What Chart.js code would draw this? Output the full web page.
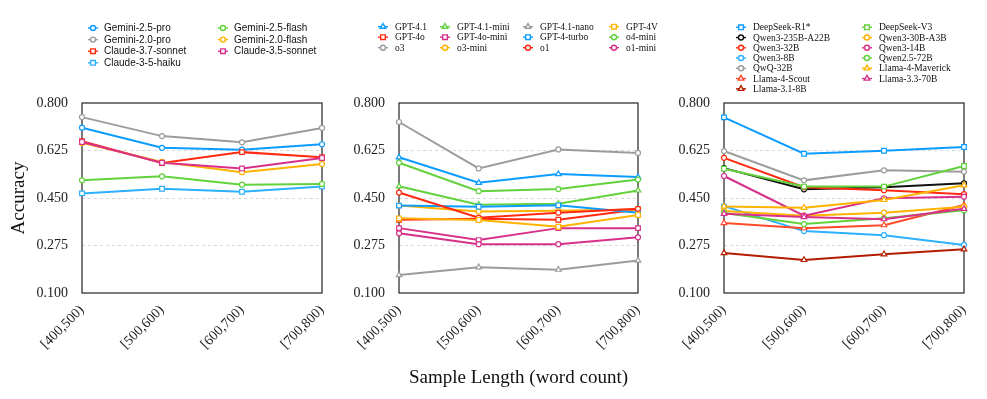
<!DOCTYPE html>
<html>
<head>
<meta charset="utf-8">
<script src="https://cdn.jsdelivr.net/npm/chart.js@4/dist/chart.umd.min.js"></script>
<style>
  html, body { margin: 0; padding: 0; background: #fff; }
  #wrap { position: relative; width: 987px; height: 399px; overflow: hidden; }
  canvas { position: absolute; top: 0; }
</style>
</head>
<body>
<div id="wrap">
  <canvas id="c1" width="330" height="399" style="left:0px"></canvas>
  <canvas id="c2" width="330" height="399" style="left:330px"></canvas>
  <canvas id="c3" width="327" height="399" style="left:660px"></canvas>
</div>
<script>
const lengthBins = ["[400,500)", "[500,600)", "[600,700)", "[700,800)"];
const yTicks = [0.1, 0.275, 0.45, 0.625, 0.8];

// panel 1: proprietary (Gemini / Claude)
const gemini25Pro = [0.709, 0.635, 0.628, 0.648];
const gemini20Pro = [0.748, 0.678, 0.655, 0.708];
const claude37Sonnet = [0.659, 0.579, 0.619, 0.600];
const claude35Haiku = [0.467, 0.484, 0.473, 0.492];
const gemini25Flash = [0.515, 0.530, 0.499, 0.502];
const gemini20Flash = [0.653, 0.583, 0.545, 0.575];
const claude35Sonnet = [0.656, 0.580, 0.559, 0.597];

// panel 2: OpenAI
const gpt41 = [0.600, 0.506, 0.538, 0.527];
const gpt4o = [0.370, 0.374, 0.370, 0.408];
const o3 = [0.730, 0.559, 0.629, 0.616];
const gpt41Mini = [0.493, 0.425, 0.429, 0.478];
const gpt4oMini = [0.339, 0.295, 0.339, 0.339];
const o3Mini = [0.422, 0.400, 0.403, 0.408];
const gpt41Nano = [0.166, 0.195, 0.186, 0.220];
const gpt4Turbo = [0.422, 0.418, 0.423, 0.396];
const o1 = [0.470, 0.377, 0.396, 0.410];
const gpt4v = [0.375, 0.369, 0.344, 0.387];
const o4Mini = [0.580, 0.475, 0.483, 0.518];
const o1Mini = [0.320, 0.280, 0.280, 0.305];

// panel 3: open weights
const deepseekR1 = [0.747, 0.613, 0.624, 0.638];
const qwen3_235b = [0.560, 0.482, 0.490, 0.504];
const qwen3_32b = [0.598, 0.490, 0.479, 0.464];
const qwen3_8b = [0.420, 0.328, 0.313, 0.277];
const qwq32b = [0.623, 0.515, 0.552, 0.547];
const llama4Scout = [0.358, 0.339, 0.350, 0.424];
const llama31_8b = [0.247, 0.222, 0.243, 0.261];
const deepseekV3 = [0.558, 0.492, 0.492, 0.568];
const qwen3_30b = [0.402, 0.385, 0.396, 0.418];
const qwen3_14b = [0.531, 0.385, 0.449, 0.455];
const qwen25_72b = [0.395, 0.354, 0.375, 0.405];
const llama4Maverick = [0.419, 0.414, 0.443, 0.497];
const llama33_70b = [0.392, 0.380, 0.372, 0.410];

const BLUE = "#0c9cff", LBLUE = "#2cb0ff", GRAY = "#9c9c9c", RED = "#ff2a10",
  GREEN = "#62d23c", ORANGE = "#ffb200", PINK = "#d8308a", BLACK = "#111111",
  DRED = "#b41c00", SRED = "#ff4a2a";

// [label, values, color, marker]
const panel1 = [
  ["Gemini-2.5-pro", gemini25Pro, BLUE, "circle"],
  ["Gemini-2.0-pro", gemini20Pro, GRAY, "circle"],
  ["Claude-3.7-sonnet", claude37Sonnet, RED, "rect"],
  ["Claude-3-5-haiku", claude35Haiku, LBLUE, "rect"],
  ["Gemini-2.5-flash", gemini25Flash, GREEN, "circle"],
  ["Gemini-2.0-flash", gemini20Flash, ORANGE, "circle"],
  ["Claude-3.5-sonnet", claude35Sonnet, PINK, "rect"]
];
const panel2 = [
  ["GPT-4.1", gpt41, BLUE, "triangle"],
  ["GPT-4o", gpt4o, RED, "rect"],
  ["o3", o3, GRAY, "circle"],
  ["GPT-4.1-mini", gpt41Mini, GREEN, "triangle"],
  ["GPT-4o-mini", gpt4oMini, PINK, "rect"],
  ["o3-mini", o3Mini, ORANGE, "circle"],
  ["GPT-4.1-nano", gpt41Nano, GRAY, "triangle"],
  ["GPT-4-turbo", gpt4Turbo, BLUE, "rect"],
  ["o1", o1, RED, "circle"],
  ["GPT-4V", gpt4v, ORANGE, "rect"],
  ["o4-mini", o4Mini, GREEN, "circle"],
  ["o1-mini", o1Mini, PINK, "circle"]
];
const panel3 = [
  ["DeepSeek-R1*", deepseekR1, BLUE, "rect"],
  ["Qwen3-235B-A22B", qwen3_235b, BLACK, "circle"],
  ["Qwen3-32B", qwen3_32b, RED, "circle"],
  ["Qwen3-8B", qwen3_8b, LBLUE, "circle"],
  ["QwQ-32B", qwq32b, GRAY, "circle"],
  ["Llama-4-Scout", llama4Scout, SRED, "triangle"],
  ["Llama-3.1-8B", llama31_8b, DRED, "triangle"],
  ["DeepSeek-V3", deepseekV3, GREEN, "rect"],
  ["Qwen3-30B-A3B", qwen3_30b, ORANGE, "circle"],
  ["Qwen3-14B", qwen3_14b, PINK, "circle"],
  ["Qwen2.5-72B", qwen25_72b, GREEN, "circle"],
  ["Llama-4-Maverick", llama4Maverick, ORANGE, "triangle"],
  ["Llama-3.3-70B", llama33_70b, PINK, "triangle"]
];

const SERIF = "'Liberation Serif', 'Times New Roman', serif";
const SANS = "'Liberation Sans', Arial, sans-serif";
const markerRadius = { circle: 2.5, rect: 3.3, triangle: 3.2 };

// legend in matplotlib style: filled column by column
const legendGrid = {
  id: "legendGrid",
  afterDraw(chart, args, opts) {
    const ctx = chart.ctx;
    const sets = chart.data.datasets;
    const rows = Math.ceil(sets.length / opts.cols);
    ctx.save();
    ctx.font = opts.font;
    ctx.textBaseline = "middle";
    ctx.textAlign = "left";
    sets.forEach((ds, i) => {
      const col = Math.floor(i / rows);
      const row = i % rows;
      const mx = opts.markerX[col];
      const y = opts.top + row * opts.step;
      ctx.strokeStyle = ds.borderColor;
      ctx.lineWidth = 1.4;
      ctx.beginPath();
      ctx.moveTo(mx - 5, y);
      ctx.lineTo(mx + 5, y);
      ctx.stroke();
      ctx.fillStyle = "#fff";
      Chart.helpers.drawPoint(ctx, {
        pointStyle: ds.pointStyle,
        radius: ds.pointRadius,
        rotation: 0,
        borderWidth: 1.4
      }, mx, y);
      ctx.fillStyle = "#111";
      ctx.fillText(ds.label, mx + opts.textGap, y + 0.5);
    });
    ctx.restore();
  }
};

const frameBox = {
  id: "frameBox",
  beforeDatasetsDraw(chart) {
    const { ctx, chartArea: a } = chart;
    ctx.save();
    ctx.strokeStyle = "#333";
    ctx.lineWidth = 1.3;
    ctx.strokeRect(a.left, a.top, a.right - a.left, a.bottom - a.top);
    ctx.restore();
  }
};

function makeChart(id, series, o) {
  const datasets = series.map(([label, values, color, marker], i) => ({
    label,
    data: values,
    borderColor: color,
    backgroundColor: color,
    borderWidth: 2,
    pointStyle: marker,
    pointRadius: markerRadius[marker],
    pointBackgroundColor: "#fff",
    pointBorderColor: color,
    pointBorderWidth: 1.2,
    tension: 0,
    clip: false,
    order: -i
  }));

  return new Chart(document.getElementById(id), {
    type: "line",
    data: { labels: lengthBins, datasets },
    plugins: [frameBox, legendGrid],
    options: {
      responsive: false,
      animation: false,
      devicePixelRatio: 1,
      layout: { padding: { top: 103, right: o.right, bottom: 0, left: 0 } },
      plugins: {
        legend: { display: false },
        tooltip: { enabled: false },
        legendGrid: o.legend
      },
      scales: {
        x: {
          offset: false,
          grid: { display: false, drawTicks: false },
          border: { display: false },
          ticks: {
            autoSkip: false,
            maxRotation: 45,
            minRotation: 45,
            padding: 9,
            color: "#222",
            font: { family: SERIF, size: 14 }
          },
          title: {
            display: !!o.xTitle,
            text: o.xTitle || "",
            color: "#111",
            font: { family: SERIF, size: 19 },
            padding: { top: 0, bottom: 10 }
          },
          afterFit(scale) {
            scale.height = 106;
            scale.paddingLeft = 0;
            scale.paddingRight = 0;
          }
        },
        y: {
          min: 0.1,
          max: 0.8,
          afterBuildTicks(scale) { scale.ticks = yTicks.map(v => ({ value: v })); },
          grid: {
            drawTicks: false,
            lineWidth: 0.8,
            color: ctx => (ctx.tick && (ctx.tick.value === 0.1 || ctx.tick.value === 0.8)) ? "rgba(0,0,0,0)" : "#cfcfcf"
          },
          border: { display: false, dash: [3, 3] },
          ticks: {
            padding: 14,
            color: "#222",
            font: { family: SERIF, size: 14 },
            callback: v => Number(v).toFixed(3)
          },
          title: {
            display: !!o.yTitle,
            text: o.yTitle || "",
            color: "#111",
            font: { family: SERIF, size: 19 },
            padding: { top: 8, bottom: 0 }
          },
          afterFit(scale) {
            scale.width = o.yWidth;
            scale.paddingTop = 0;
            scale.paddingBottom = 0;
          }
        }
      }
    }
  });
}

makeChart("c1", panel1, {
  right: 8, yWidth: 82, yTitle: "Accuracy",
  legend: { cols: 2, markerX: [93, 223], textGap: 11, top: 28, step: 11.6, font: "10px " + SANS }
});
makeChart("c2", panel2, {
  right: 22, yWidth: 69, xTitle: "Sample Length (word count)",
  legend: { cols: 4, markerX: [53, 115, 198, 284], textGap: 12, top: 26.7, step: 10.5, font: "9.5px " + SERIF }
});
makeChart("c3", panel3, {
  right: 23, yWidth: 64,
  legend: { cols: 2, markerX: [81, 207], textGap: 12, top: 27.3, step: 10.25, font: "9.5px " + SERIF }
});
</script>
</body>
</html>
